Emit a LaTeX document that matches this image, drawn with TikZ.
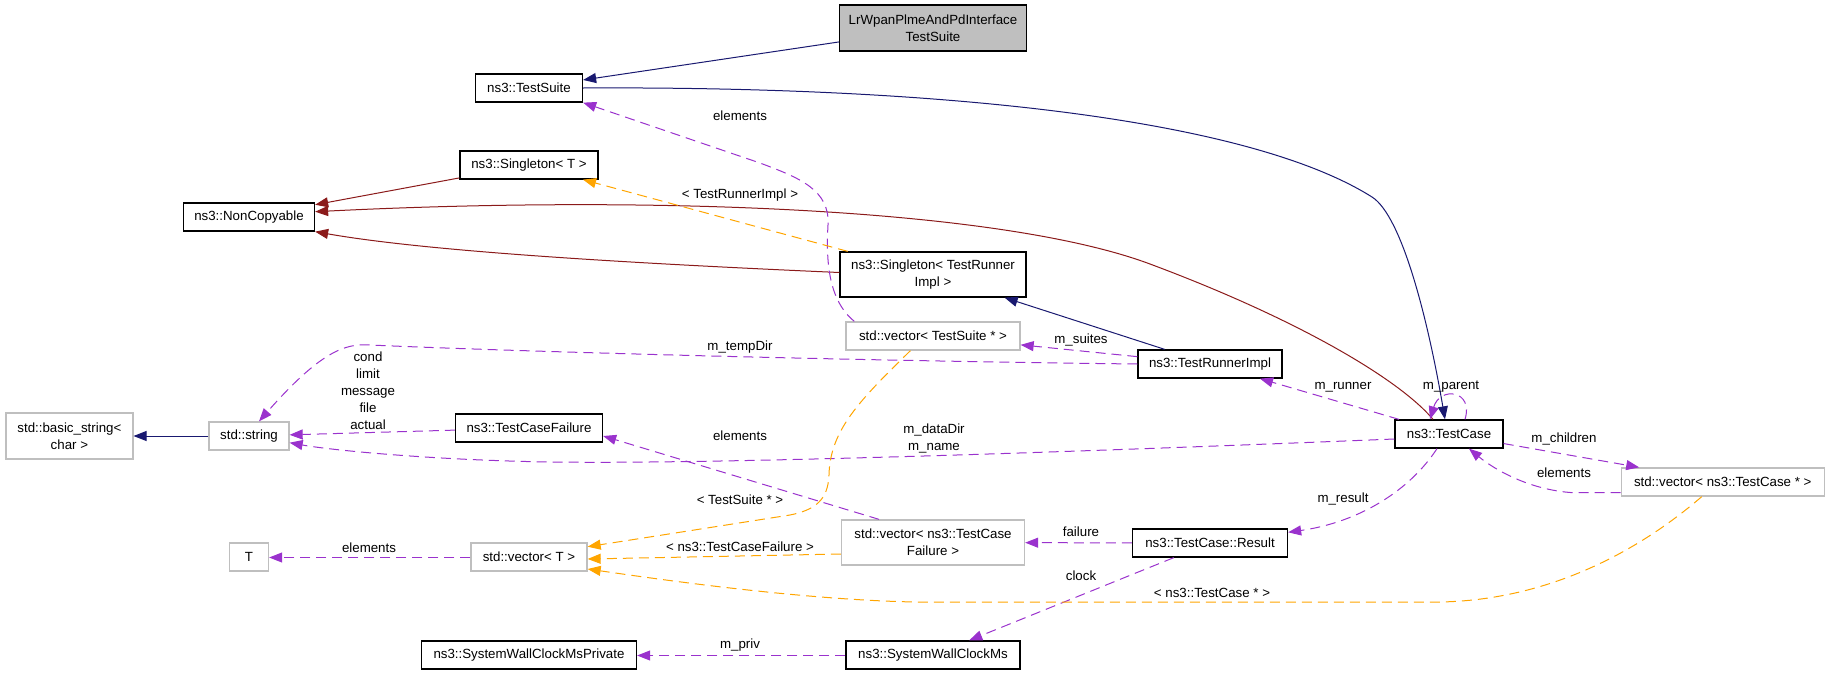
\documentclass[tikz,border=0pt]{standalone}
\usepackage{fontspec}
\setmainfont{Liberation Sans}
\usetikzlibrary{arrows.meta}
\definecolor{inhblue}{HTML}{191970}
\definecolor{privred}{HTML}{8B1A1A}
\definecolor{usepurple}{HTML}{9A32CD}
\definecolor{tmplorange}{HTML}{FFA500}
\definecolor{extgray}{HTML}{BFBFBF}
\tikzset{
  font=\fontsize{13.3}{17}\selectfont,
  cls/.style={
    draw=black,
    line width=1.3pt,
    fill=white,
    align=center,
    inner sep=0pt,
    minimum height=28pt
  },
  ext/.style={
    cls,
    draw=extgray
  },
  focus/.style={
    cls,
    fill=extgray,
    minimum height=46pt
  },
  lbl/.style={
    inner sep=0pt,
    align=center
  },
  inherit/.style={-{Triangle[length=13pt,width=10pt]}, line width=1pt, draw=inhblue},
  privinh/.style={-{Triangle[length=13pt,width=10pt]}, line width=1pt, draw=privred},
  usage/.style={-{Triangle[length=13pt,width=10pt]}, line width=1pt, draw=usepurple, dash pattern=on 10pt off 6pt},
  tmpl/.style={-{Triangle[length=13pt,width=10pt]}, line width=1pt, draw=tmplorange, dash pattern=on 10pt off 6pt}
}
\begin{document}
\begin{tikzpicture}[x=1pt,y=-1pt]
\useasboundingbox (0,0) rectangle (1829,675);

% Classes
\node[focus, minimum width=187pt] (lrwpan) at (933,28) {LrWpanPlmeAndPdInterface\\TestSuite};
\node[cls, minimum width=107pt] (suite) at (529,88) {ns3::TestSuite};
\node[cls, minimum width=138pt] (singT) at (529,165) {ns3::Singleton< T >};
\node[cls, minimum width=131pt] (noncopy) at (249,217) {ns3::NonCopyable};
\node[cls, minimum width=186pt, minimum height=45pt] (singTRI) at (933,274.5) {ns3::Singleton< TestRunner\\Impl >};
\node[ext, minimum width=174pt] (vecsuite) at (933,336) {std::vector< TestSuite * >};
\node[cls, minimum width=144pt] (runner) at (1210,364) {ns3::TestRunnerImpl};
\node[ext, minimum width=127pt, minimum height=46pt] (basicstr) at (69.4,436) {std::basic\_string<\\char >};
\node[ext, minimum width=80pt] (str) at (249,436) {std::string};
\node[cls, minimum width=147pt] (failure) at (529,428) {ns3::TestCaseFailure};
\node[cls, minimum width=108pt] (tcase) at (1449,434) {ns3::TestCase};
\node[ext, minimum width=203pt] (veccase) at (1722.7,482) {std::vector< ns3::TestCase * >};
\node[ext, minimum width=183pt, minimum height=45pt] (vecfail) at (933,542.5) {std::vector< ns3::TestCase\\Failure >};
\node[cls, minimum width=155pt] (result) at (1210,543) {ns3::TestCase::Result};
\node[ext, minimum width=39pt] (tparam) at (249,557) {T};
\node[ext, minimum width=116pt] (vect) at (529,557) {std::vector< T >};
\node[cls, minimum width=215pt] (clockpriv) at (529,655) {ns3::SystemWallClockMsPrivate};
\node[cls, minimum width=174pt] (clock) at (933,655) {ns3::SystemWallClockMs};

% Inheritance
\draw[inherit] (lrwpan) -- (suite);
\draw[inherit] (suite.east) .. controls (950,86) and (1250,120) .. (1372,197)
  .. controls (1402,216) and (1428,320) .. ([xshift=-4pt]tcase.north);
\draw[inherit] (runner) -- (singTRI);
\draw[inherit] (str) -- (basicstr);
\draw[privinh] (singT) -- (noncopy);
\draw[privinh] ([xshift=-16pt]tcase.north) .. controls (1400,380) and (1300,320) .. (1150,264)
  .. controls (1000,208) and (650,195) .. ([yshift=5.3pt]noncopy.east);
\draw[privinh] ([yshift=2pt]singTRI.west) .. controls (600,262) and (420,250) .. (noncopy.south east);

% Usage relations
\draw[usage] ([xshift=9pt]vecsuite.north west) .. controls (828,300) and (826,260) .. (828,225)
  .. controls (830,190) and (800,178) .. (760,163) -- (suite.south east);
\draw[usage] (runner) -- (vecsuite);
\draw[usage] (runner.west) .. controls (800,360) and (480,350) .. (370,345)
  .. controls (345,343) and (320,352) .. ([xshift=10pt]str.north);
\draw[usage] (failure) -- (str);
\draw[usage] ([yshift=-5pt]tcase.west) .. controls (1000,455) and (700,464) .. (550,462)
  .. controls (430,460) and (330,450) .. ([yshift=-6.7pt]str.east);
\draw[usage] ([xshift=-54pt]vecfail.north) -- ([yshift=-8pt]failure.east);
\draw[usage] (tcase) -- (runner);
\draw[usage] ([xshift=16pt]tcase.north) .. controls (1474,390) and (1440,386) .. ([xshift=-19pt]tcase.north);
\draw[usage] (tcase) -- (veccase);
\draw[usage] ([yshift=-10.7pt]veccase.west) -- (1573,492.7) .. controls (1530,490) and (1495,470) .. ([xshift=20pt]tcase.south);
\draw[usage] ([xshift=-12pt]tcase.south) .. controls (1410,490) and (1360,522) .. ([yshift=10.7pt]result.east);
\draw[usage] (result) -- (vecfail);
\draw[usage] (result) -- (clock);
\draw[usage] ([yshift=-0.5pt]clock.west) -- ([yshift=-0.5pt]clockpriv.east);
\draw[usage] ([yshift=-0.5pt]vect.west) -- ([yshift=-0.5pt]tparam.east);

% Template instances
\draw[tmpl] (singTRI) -- (singT);
\draw[tmpl] ([xshift=-22.6pt]vecsuite.south) .. controls (860,400) and (830,430) .. (829,475)
  .. controls (828,500) and (815,510) .. (790,515) -- ([yshift=10.3pt]vect.east);
\draw[tmpl] ([yshift=-11.5pt]vecfail.west) -- ([yshift=-2pt]vect.east);
\draw[tmpl] ([xshift=-21pt]veccase.south) .. controls (1640,550) and (1550,600) .. (1440,602) -- (916,602)
  .. controls (800,600) and (650,578) .. ([yshift=-12pt]vect.east);

% Edge labels
\node[lbl] (lelsuite) at (740,116) {elements};
\node[lbl] (ltri) at (740,195) {< TestRunnerImpl >};
\node[lbl] (ltemp) at (740,347) {m\_tempDir};
\node[lbl] (lsuites) at (1081,340) {m\_suites};
\node[lbl] (lfields) at (368,391) {cond\\limit\\message\\file\\actual};
\node[lbl] (ldata) at (934,438) {m\_dataDir\\m\_name};
\node[lbl] (lelfail) at (740,436) {elements};
\node[lbl] (lrunner) at (1343,387) {m\_runner};
\node[lbl] (lparent) at (1451,387) {m\_parent};
\node[lbl] (lchildren) at (1564,439) {m\_children};
\node[lbl] (lelcase) at (1564,473) {elements};
\node[lbl] (lresult) at (1343,499) {m\_result};
\node[lbl] (ltsuite) at (740,500) {< TestSuite * >};
\node[lbl] (ltfail) at (740,547) {< ns3::TestCaseFailure >};
\node[lbl] (lfailure) at (1081,532) {failure};
\node[lbl] (lclock) at (1081,576) {clock};
\node[lbl] (lpriv) at (740,645) {m\_priv};
\node[lbl] (lelT) at (369,548) {elements};
\node[lbl] (ltcase) at (1212,593) {< ns3::TestCase * >};

\end{tikzpicture}
\end{document}
